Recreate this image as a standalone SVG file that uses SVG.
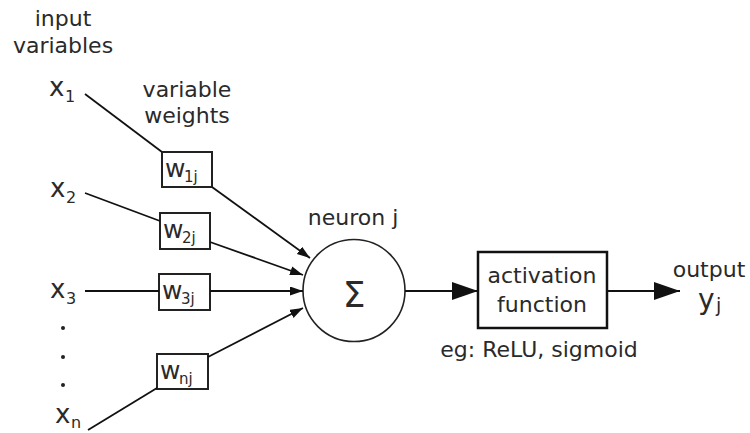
<svg xmlns="http://www.w3.org/2000/svg" width="750" height="433" viewBox="0 0 750 433">
<style>
text{font-family:"DejaVu Sans","Liberation Sans",sans-serif;fill:#2a2a2a}
.t{font-size:22px;text-anchor:middle}
.var{font-size:26px}
.sub{font-size:16px}
.wl{font-size:25px}
.ws{font-size:15px}
.box{fill:#fff;stroke:#222;stroke-width:2}
.ln{stroke:#111;stroke-width:1.8;fill:none}
</style>
<defs>
<marker id="ah" markerUnits="userSpaceOnUse" markerWidth="14" markerHeight="10" refX="13" refY="4.5" orient="auto"><path d="M0,0 L13,4.5 L0,9 z" fill="#111"/></marker>
<marker id="big" markerUnits="userSpaceOnUse" markerWidth="27" markerHeight="19" refX="26" refY="9" orient="auto"><path d="M0,0 L26,9 L0,18 z" fill="#111"/></marker>
</defs>
<rect width="750" height="433" fill="#fff"/>
<g id="labels">
<text class="t" x="63" y="26">input</text>
<text class="t" x="63" y="53">variables</text>
<text class="t" x="187" y="97">variable</text>
<text class="t" x="187" y="123">weights</text>
</g>
<g id="x1"><text class="var" x="49" y="96">x</text><text class="sub" x="65" y="102">1</text></g>
<g id="x2"><text class="var" x="50" y="197">x</text><text class="sub" x="66" y="203">2</text></g>
<g id="x3"><text class="var" x="50" y="298">x</text><text class="sub" x="66" y="304">3</text></g>
<g id="dots" fill="#222"><circle cx="63" cy="328" r="2"/><circle cx="63" cy="357" r="2"/><circle cx="63" cy="385" r="2"/></g>
<g id="xn"><text class="var" x="55" y="423">x</text><text class="sub" x="71" y="428">n</text></g>
<g id="w1j"><rect class="box" x="162" y="152" width="50" height="35"/><text class="wl" x="165" y="177">w</text><text class="ws" x="184" y="182">1j</text></g>
<g id="w2j"><rect class="box" x="160" y="213" width="50" height="36"/><text class="wl" x="163" y="238">w</text><text class="ws" x="182" y="243">2j</text></g>
<g id="w3j"><rect class="box" x="159" y="274" width="51" height="36"/><text class="wl" x="162" y="299">w</text><text class="ws" x="181" y="304">3j</text></g>
<g id="wnj"><rect class="box" x="157" y="354" width="51" height="35"/><text class="wl" x="160" y="379">w</text><text class="ws" x="179" y="384">nj</text></g>
<g id="neuron">
<circle cx="354" cy="290.5" r="51" fill="#fff" stroke="#222" stroke-width="1.6"/>
<text x="354" y="307" font-size="36" text-anchor="middle" fill="#111">Σ</text>
<text class="t" x="353" y="225">neuron j</text>
</g>
<g id="activation">
<rect x="478" y="252" width="129" height="76" fill="#fff" stroke="#111" stroke-width="2.5"/>
<text class="t" x="542" y="283">activation</text>
<text class="t" x="542" y="312">function</text>
<text class="t" x="539" y="357">eg: ReLU, sigmoid</text>
</g>
<g id="output">
<text class="t" x="709" y="277">output</text>
<text x="698" y="309" font-size="28">y</text><text x="716" y="312" font-size="19">j</text>
</g>
<g id="connectors">
<line class="ln" x1="85" y1="94" x2="162" y2="152"/>
<line class="ln" x1="212" y1="187" x2="310" y2="258" marker-end="url(#ah)"/>
<line class="ln" x1="85" y1="193" x2="160" y2="221"/>
<line class="ln" x1="210" y1="242" x2="303" y2="275" marker-end="url(#ah)"/>
<line class="ln" x1="85" y1="291" x2="159" y2="291"/>
<line class="ln" x1="210" y1="291" x2="303" y2="291" marker-end="url(#ah)"/>
<line class="ln" x1="88" y1="430" x2="157" y2="388"/>
<line class="ln" x1="208" y1="357" x2="303" y2="308" marker-end="url(#ah)"/>
<line class="ln" x1="405" y1="291" x2="478" y2="291" stroke-width="2" marker-end="url(#big)"/>
<line class="ln" x1="607" y1="291" x2="680" y2="291" stroke-width="2" marker-end="url(#big)"/>
</g>
</svg>
